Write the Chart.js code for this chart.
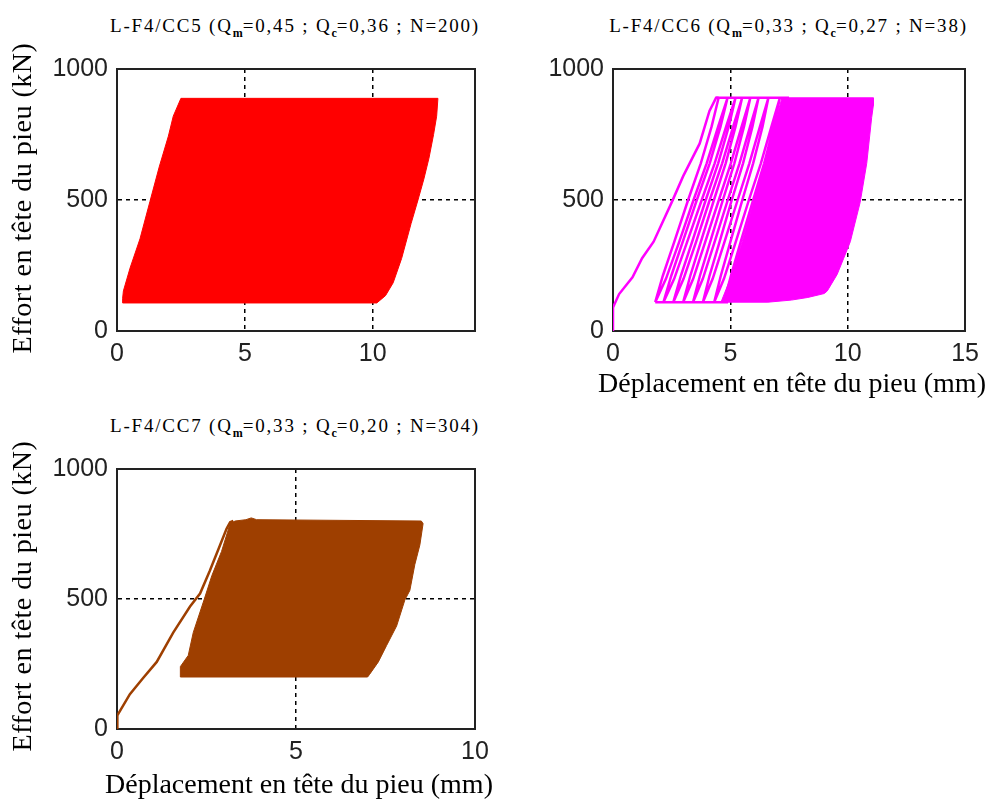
<!DOCTYPE html>
<html lang="fr">
<head>
<meta charset="UTF-8">
<title>Essais cycliques L-F4</title>
<script src="https://cdn.jsdelivr.net/npm/chart.js@4.4.5/dist/chart.umd.min.js"></script>
<style>
  html, body { margin: 0; padding: 0; background: #fff; }
  body { position: relative; width: 987px; height: 803px; overflow: hidden; }
  .box { position: absolute; }
  .ttl {
    position: absolute; text-align: center; white-space: nowrap;
    font-family: 'Liberation Serif', 'Times New Roman', serif;
    font-size: 19px; line-height: 19px; color: #000; letter-spacing: 1.8px;
  }
  .ttl sub { font-size: 12px; font-weight: bold; vertical-align: -5px; line-height: 0; letter-spacing: 0; }
  .lbl {
    position: absolute; text-align: center; white-space: nowrap;
    font-family: 'Liberation Serif', 'Times New Roman', serif;
    font-size: 28px; line-height: 28px; height: 28px; color: #000;
  }
  .rot { width: 320px; transform: rotate(-90deg); letter-spacing: 0.5px; }
</style>
</head>
<body>

<div class="ttl" style="left:110px; width:358px; top:16px">L-F4/CC5 (Q<sub>m</sub>=0,45 ; Q<sub>c</sub>=0,36 ; N=200)</div>
<div class="ttl" style="left:609px; width:359px; top:16px">L-F4/CC6 (Q<sub>m</sub>=0,33 ; Q<sub>c</sub>=0,27 ; N=38)</div>
<div class="ttl" style="left:110px; width:358px; top:416px">L-F4/CC7 (Q<sub>m</sub>=0,33 ; Q<sub>c</sub>=0,20 ; N=304)</div>

<div class="box" style="left:0; top:45px"><canvas id="cc5" width="500" height="320"></canvas></div>
<div class="box" style="left:540px; top:45px"><canvas id="cc6" width="447" height="360"></canvas></div>
<div class="box" style="left:0; top:445px"><canvas id="cc7" width="500" height="358"></canvas></div>

<div class="lbl rot" id="ylab5" style="left:-138px; top:184px"></div>
<div class="lbl rot" id="ylab7" style="left:-138px; top:582px"></div>
<div class="lbl" id="xlab6" style="left:598px; width:380px; top:369px"></div>
<div class="lbl" id="xlab7" style="left:105px; width:380px; top:770px"></div>

<script>
  // axis labels
  const yLabel = 'Effort en tête du pieu (kN)';
  const xLabel = 'Déplacement en tête du pieu (mm)';
  const yTickStep = 500;
  const xTickStep = 5;

  // CC5 : cycles superposés (N=200), enveloppe [mm, kN]
  const cc5Envelope = [
    [2.50, 888], [12.55, 888], [12.50, 820], [12.38, 750], [12.20, 660], [12.00, 580],
    [11.77, 500], [11.50, 410], [11.13, 277], [10.80, 184], [10.50, 135], [10.16, 107],
    [0.22, 107], [0.22, 125], [0.25, 153], [0.51, 240], [0.90, 352], [1.29, 495],
    [1.65, 626], [2.01, 744], [2.20, 820], [2.50, 888]
  ];

  // CC6 : chargement initial
  const cc6Initial = [
    [0, 0], [0, 90], [0.26, 141], [0.83, 205], [1.24, 278], [1.73, 341], [2.50, 491],
    [2.99, 591], [3.69, 715], [4.11, 840], [4.39, 890], [4.50, 890]
  ];
  // CC6 : premiers cycles décharge / recharge
  const cc6Cycles = [
    [4.50, 890], [4.20, 780], [3.74, 640], [3.20, 500], [2.61, 340], [2.12, 210], [1.80, 110],
    [2.26, 200], [2.82, 340], [3.43, 500], [3.99, 640], [4.48, 780], [4.88, 890],
    [4.58, 780], [4.12, 640], [3.57, 500], [2.97, 340], [2.48, 210], [2.15, 110],
    [2.61, 200], [3.16, 340], [3.78, 500], [4.33, 640], [4.82, 780], [5.22, 890],
    [4.93, 780], [4.48, 640], [3.95, 500], [3.37, 340], [2.89, 210], [2.57, 110],
    [3.01, 200], [3.54, 340], [4.12, 500], [4.65, 640], [5.12, 780], [5.50, 890],
    [5.22, 780], [4.80, 640], [4.30, 500], [3.74, 340], [3.29, 210], [2.99, 110],
    [3.42, 200], [3.93, 340], [4.51, 500], [5.02, 640], [5.48, 780], [5.85, 890],
    [5.58, 780], [5.17, 640], [4.68, 500], [4.14, 340], [3.70, 210], [3.41, 110],
    [3.83, 200], [4.33, 340], [4.89, 500], [5.39, 640], [5.84, 780], [6.20, 890],
    [5.94, 780], [5.54, 640], [5.06, 500], [4.54, 340], [4.11, 210], [3.83, 110],
    [4.25, 200], [4.75, 340], [5.31, 500], [5.81, 640], [6.26, 780], [6.62, 890],
    [6.37, 780], [5.97, 640], [5.51, 500], [5.00, 340], [4.59, 210], [4.31, 110],
    [4.73, 200], [5.23, 340], [5.79, 500], [6.30, 640], [6.75, 780], [7.11, 890],
    [6.85, 780], [6.44, 640], [5.97, 500], [5.44, 340], [5.02, 210], [4.73, 110],
    [5.15, 200], [5.64, 340], [6.20, 500], [6.70, 640], [7.14, 780], [7.50, 890]
  ];
  const cc6Peaks = [[4.39, 890], [7.50, 890]];
  const cc6Valleys = [[1.80, 110], [4.90, 110]];
  // CC6 : cycles suivants (zone dense)
  const cc6Envelope = [
    [7.20, 890], [11.09, 890], [11.09, 860], [11.02, 815], [10.81, 640], [10.53, 491],
    [10.11, 341], [9.83, 278], [9.55, 216], [9.13, 153], [9.00, 143], [8.30, 128],
    [7.60, 118], [6.60, 110], [4.60, 110], [5.00, 200], [5.50, 340], [6.00, 500],
    [6.45, 640], [6.85, 780], [7.20, 890]
  ];

  // CC7 : chargement initial puis cycles (N=304)
  const cc7Initial = [
    [0, 3], [0.01, 52], [0.36, 134], [0.73, 196], [1.11, 258], [1.57, 371], [2.04, 471],
    [2.32, 521], [2.59, 608], [2.88, 708], [3.06, 770], [3.16, 795], [3.25, 800]
  ];
  const cc7Envelope = [
    [3.30, 800], [3.60, 805], [3.75, 812], [3.90, 805], [8.50, 800], [8.55, 790],
    [8.46, 708], [8.32, 633], [8.18, 533], [8.04, 496], [7.81, 396], [7.53, 321],
    [7.30, 258], [7.05, 209], [7.00, 200], [1.77, 200], [1.77, 240], [1.99, 283],
    [2.13, 371], [2.43, 496], [2.65, 590], [2.92, 683], [3.16, 790], [3.30, 800]
  ];

  document.getElementById('ylab5').textContent = yLabel;
  document.getElementById('ylab7').textContent = yLabel;
  document.getElementById('xlab6').textContent = xLabel;
  document.getElementById('xlab7').textContent = xLabel;

  const tickFont = { family: "'Liberation Sans', Arial, sans-serif", size: 25, lineHeight: 1.2 };

  function filled(data, color) {
    return { data: data, showLine: true, fill: 'shape', backgroundColor: color, borderColor: color,
             borderWidth: 1, pointRadius: 0, tension: 0, xAxisID: 'x', yAxisID: 'y' };
  }
  function curve(data, color) {
    return { data: data, showLine: true, fill: false, borderColor: color, borderWidth: 2.5,
             pointRadius: 0, tension: 0, xAxisID: 'x', yAxisID: 'y' };
  }

  function makeChart(id, datasets, o) {
    new Chart(document.getElementById(id), {
      type: 'scatter',
      data: { datasets: datasets },
      options: {
        responsive: false,
        animation: false,
        devicePixelRatio: 1,
        layout: { padding: { top: o.padTop, right: o.padRight, left: 0, bottom: 0 } },
        plugins: { legend: { display: false }, tooltip: { enabled: false } },
        scales: {
          x: {
            type: 'linear', position: 'bottom', min: 0, max: o.xMax,
            ticks: { stepSize: xTickStep, includeBounds: false, font: tickFont, color: '#222', padding: 8,
                     maxRotation: 0, callback: function (v) { return String(v); } },
            grid: { color: '#000', lineWidth: 1.5, drawTicks: false },
            border: { display: true, color: '#222', width: 2, dash: [4, 4] },
            afterFit: function (s) { s.height = o.xHeight; }
          },
          y: {
            type: 'linear', position: 'left', min: 0, max: 1000,
            ticks: { stepSize: yTickStep, font: tickFont, color: '#222', padding: 9,
                     callback: function (v) { return String(v); } },
            grid: { color: '#000', lineWidth: 1.5, drawTicks: false },
            border: { display: true, color: '#222', width: 2, dash: [4, 4] },
            afterFit: function (s) { s.width = o.yWidth; }
          },
          x2: {
            type: 'linear', position: 'top', min: 0, max: o.xMax,
            ticks: { display: false }, grid: { display: false, drawTicks: false },
            border: { display: true, color: '#222', width: 2 },
            afterFit: function (s) { s.height = 0; }
          },
          y2: {
            type: 'linear', position: 'right', min: 0, max: 1000,
            ticks: { display: false }, grid: { display: false, drawTicks: false },
            border: { display: true, color: '#222', width: 2 },
            afterFit: function (s) { s.width = 0; }
          }
        }
      }
    });
  }

  const red = '#ff0000', magenta = '#ff00ff', brown = '#9e3f00';

  makeChart('cc5', [filled(cc5Envelope, red)],
    { xMax: 14, padTop: 18, padRight: 25, yWidth: 117, xHeight: 34 });

  makeChart('cc6', [
      curve(cc6Initial, magenta), curve(cc6Cycles, magenta), curve(cc6Peaks, magenta),
      curve(cc6Valleys, magenta), filled(cc6Envelope, magenta)],
    { xMax: 15, padTop: 19, padRight: 15, yWidth: 73, xHeight: 74 });

  makeChart('cc7', [curve(cc7Initial, brown), filled(cc7Envelope, brown)],
    { xMax: 10, padTop: 17, padRight: 25, yWidth: 117, xHeight: 74 });
</script>
</body>
</html>
